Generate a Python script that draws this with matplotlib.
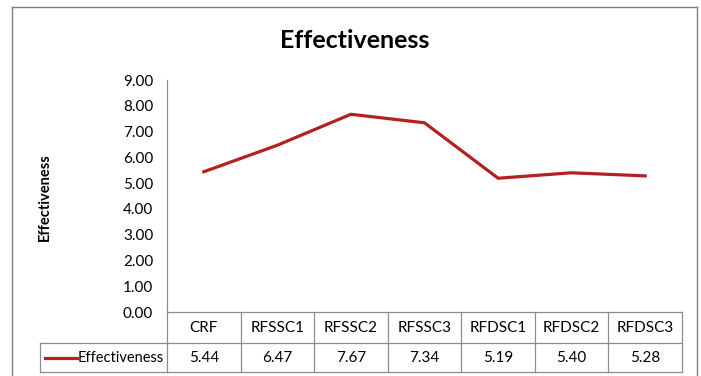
import matplotlib.pyplot as plt
import matplotlib.transforms as mtransforms
from matplotlib.lines import Line2D

# --------------------------
# Data
# --------------------------
categories = ["CRF", "RFSSC1", "RFSSC2", "RFSSC3", "RFDSC1", "RFDSC2", "RFDSC3"]
effectiveness = [5.44, 6.47, 7.67, 7.34, 5.19, 5.40, 5.28]
series_name = "Effectiveness"
y_ticks = [0, 1, 2, 3, 4, 5, 6, 7, 8, 9]

line_color = "#B3201F"
grid_color = "#8C8C8C"
plt.rcParams['font.family'] = ['Lato', 'DejaVu Sans']

W, H = 701, 376
fig = plt.figure(figsize=(W / 100, H / 100), dpi=100)

# plot area in pixels: x 167..682, y 80..312
ax = fig.add_axes([167 / W, (H - 312) / H, (682 - 167) / W, (312 - 80) / H])
xs = list(range(len(categories)))
ax.plot(xs, effectiveness, color=line_color, lw=2.3, solid_joinstyle='miter')
ax.set_xlim(-0.5, len(categories) - 0.5)
ax.set_ylim(0, 9)
ax.set_yticks(y_ticks)
ax.set_yticklabels([f"{v:.2f}" for v in y_ticks], fontsize=11)
ax.tick_params(axis='y', length=0, pad=10)
ax.set_xticks([])
for s in ["top", "right", "bottom"]:
    ax.spines[s].set_visible(False)
ax.spines["left"].set_color(grid_color)
ax.spines["left"].set_linewidth(0.9)

# --------------------------
# Data table under the plot
# --------------------------
tr = mtransforms.blended_transform_factory(ax.transData, ax.transAxes)
ph = 312 - 80
r1 = -31 / ph   # bottom of header row
r2 = -60 / ph   # bottom of value row
x0, x1 = -0.5, len(categories) - 0.5
lkw = dict(color=grid_color, lw=0.9, transform=tr, clip_on=False)
ax.add_line(Line2D([x0, x1], [0, 0], **lkw))
ax.add_line(Line2D([x0, x1], [r1, r1], **lkw))
ax.add_line(Line2D([x0, x1], [r2, r2], **lkw))
ax.add_line(Line2D([x0, x0], [0, r2], **lkw))
for i in range(len(categories)):
    ax.add_line(Line2D([i + 0.5, i + 0.5], [0, r2], **lkw))
    ax.text(i, r1 / 2, categories[i], ha='center', va='center',
            fontsize=11, transform=tr)
    ax.text(i, (r1 + r2) / 2, f"{effectiveness[i]:.2f}", ha='center',
            va='center', fontsize=11, transform=tr)

# legend cell (pixels 40..167)
ftr = fig.transFigure
def fx(px):
    return px / W
def fy(py):
    return (H - py) / H
fkw = dict(color=grid_color, lw=0.9, transform=ftr)
fig.add_artist(Line2D([fx(40), fx(167)], [fy(343), fy(343)], **fkw))
fig.add_artist(Line2D([fx(40), fx(167)], [fy(372), fy(372)], **fkw))
fig.add_artist(Line2D([fx(40), fx(40)], [fy(343), fy(372)], **fkw))
fig.add_artist(Line2D([fx(45), fx(77)], [fy(357.5), fy(357.5)],
                      color=line_color, lw=2.3, transform=ftr))
fig.text(fx(78), fy(357.5), series_name, ha='left', va='center', fontsize=10.5)

# outer chart border
bkw = dict(color="#7F7F7F", lw=1.0, transform=ftr)
fig.add_artist(Line2D([fx(12), fx(697)], [fy(7), fy(7)], **bkw))
fig.add_artist(Line2D([fx(12), fx(12)], [fy(7), fy(380)], **bkw))
fig.add_artist(Line2D([fx(697), fx(697)], [fy(7), fy(380)], **bkw))

# titles
fig.text(fx(355), fy(40), "Effectiveness", ha='center', va='center',
          fontsize=18, fontweight='bold')
fig.text(fx(45), fy(197), "Effectiveness", ha='center', va='center',
          rotation=90, fontsize=10.5, fontweight='bold')

fig.savefig("out.png", dpi=100)
